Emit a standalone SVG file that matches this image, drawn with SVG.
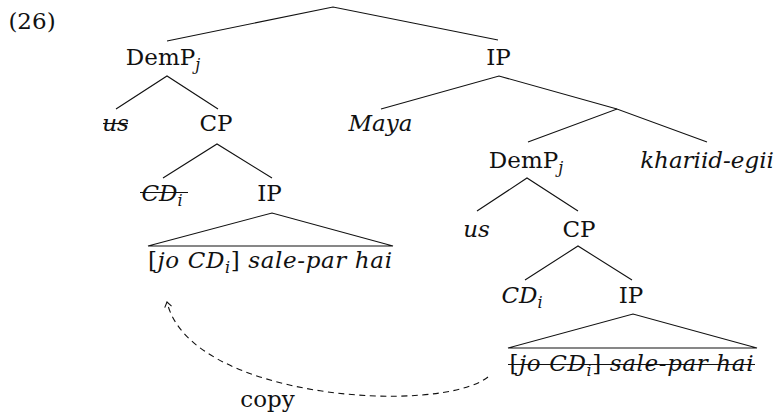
<svg xmlns="http://www.w3.org/2000/svg" width="775" height="418" viewBox="0 0 775 418">
<defs>
<style>
text{font-family:"DejaVu Serif","Liberation Serif",serif;font-size:23px;fill:#111;text-anchor:middle}
.it{font-style:italic}
.sub{font-size:16px;font-style:italic}
.e{stroke:#111;stroke-width:1.1;fill:none}
.st{stroke:#111;stroke-width:1.1}
.dash{stroke:#111;stroke-width:1.1;fill:none;stroke-dasharray:6 4.5}
</style>
<marker id="ah" viewBox="-7 -5 8 10" refX="0" refY="0" markerWidth="8" markerHeight="10" markerUnits="userSpaceOnUse" orient="auto">
<path d="M -5 -3.5 L 0 0 L -5 3.5" fill="none" stroke="#111" stroke-width="1.1"/>
</marker>
</defs>
<rect width="775" height="418" fill="#fff"/>
<text id="exnum" x="32" y="29">(26)</text>
<g id="connectors">
<path class="e" d="M167 41 L333 7 L498 40"/>
<path class="e" d="M116 109 L167 76 L218 109"/>
<path class="e" d="M163 178 L217 144 L272 178"/>
<path class="e" d="M148 246 L272 213 L393 246 Z"/>
<path class="e" d="M381 109 L499 76 L617 109"/>
<path class="e" d="M528 142 L617 109 L707 142"/>
<path class="e" d="M477 211 L527 178 L578 211"/>
<path class="e" d="M525 280 L578 246 L632 280"/>
<path class="e" d="M508 348 L633 314 L757 348 Z"/>
<path class="dash" d="M488 377 C440 415 190 400 167 302" marker-end="url(#ah)"/>
</g>
<g id="n-demp-left"><text x="163" y="65">DemP<tspan class="sub" dy="5">j</tspan></text></g>
<g id="n-ip-top"><text x="498.5" y="65">IP</text></g>
<g id="n-us-left"><text class="it" x="115.5" y="131">us</text><line class="st" x1="103" y1="123.5" x2="128" y2="123.5"/></g>
<g id="n-cp-left"><text x="216" y="131">CP</text></g>
<g id="n-maya"><text class="it" x="380.5" y="131">Maya</text></g>
<g id="n-cd-left"><text class="it" x="162" y="201">CD<tspan class="sub" dy="5">i</tspan></text><line class="st" x1="140" y1="192.5" x2="188" y2="192.5"/></g>
<g id="n-ip-left"><text x="269.5" y="201">IP</text></g>
<g id="n-tri-left"><text x="270" y="268" textLength="244" lengthAdjust="spacing">[<tspan class="it">jo CD</tspan><tspan class="sub" dy="5">i</tspan><tspan dy="-5">] </tspan><tspan class="it">sale-par hai</tspan></text></g>
<g id="n-demp-right"><text x="526" y="168">DemP<tspan class="sub" dy="5">j</tspan></text></g>
<g id="n-khariid"><text class="it" x="707" y="168">khariid-egii</text></g>
<g id="n-us-right"><text class="it" x="476.5" y="237">us</text></g>
<g id="n-cp-right"><text x="579" y="237">CP</text></g>
<g id="n-cd-right"><text class="it" x="522" y="303">CD<tspan class="sub" dy="5">i</tspan></text></g>
<g id="n-ip-right"><text x="631" y="303">IP</text></g>
<g id="n-tri-right"><text x="631.5" y="371" textLength="244" lengthAdjust="spacing">[<tspan class="it">jo CD</tspan><tspan class="sub" dy="5">i</tspan><tspan dy="-5">] </tspan><tspan class="it">sale-par hai</tspan></text><line class="st" x1="508" y1="364.5" x2="755" y2="364.5"/></g>
<g id="n-copy"><text x="267.5" y="407">copy</text></g>
</svg>
